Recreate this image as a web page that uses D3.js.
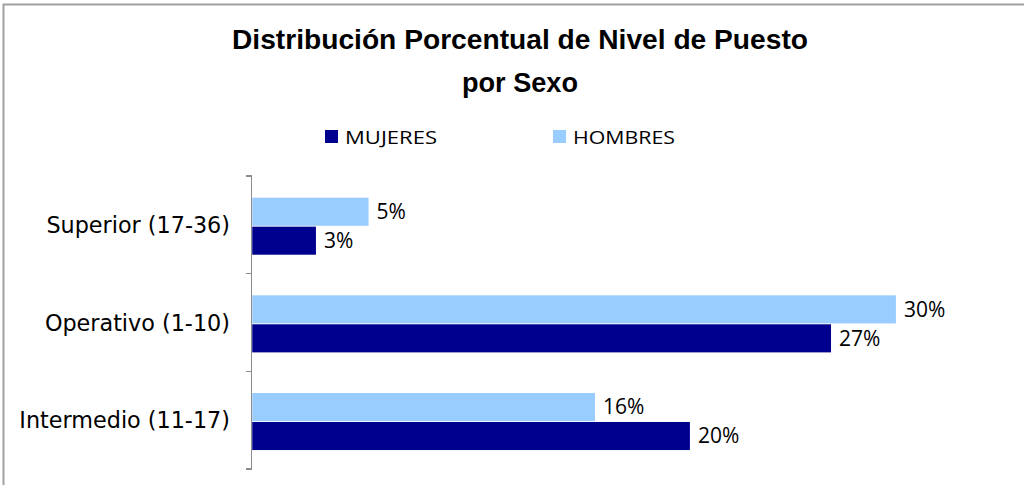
<!DOCTYPE html>
<html lang="es">
<head>
<meta charset="utf-8">
<title>Distribución Porcentual de Nivel de Puesto por Sexo</title>
<script src="https://cdn.jsdelivr.net/npm/d3@7"></script>
<style type="text/css">
  body {
    margin: 0;
    background: #fff;
  }
  svg text {
    font-family: "Open Sans", Lato, sans-serif;
    fill: #000;
  }
  .title {
    font-family: "Liberation Sans", Arial, sans-serif !important;
    font-weight: bold;
    font-size: 27px;
  }
  .cat {
    font-family: "DejaVu Sans", sans-serif !important;
    font-size: 22.3px;
  }
  .axis path, .axis line {
    stroke: #8c8c8c;
    stroke-width: 1.5;
    shape-rendering: crispEdges;
  }
</style>
</head>
<body>
<div id="vis"></div>
<script type="text/javascript">

/* Data */
/* ==== */

var categories = ['Superior (17-36)', 'Operativo (1-10)', 'Intermedio (11-17)'];
var seriesNames = ['MUJERES', 'HOMBRES'];
var mujeres = [3.0, 26.98, 20.41];
var hombres = [5.45, 30.0, 15.99];
var titleLines = ['Distribución Porcentual de Nivel de Puesto', 'por Sexo'];

var colors = { MUJERES: '#00008f', HOMBRES: '#99ccff' };


/* Set up */
/* ====== */

var width = 1024, height = 485;

var svg = d3.select('#vis')
  .append('svg')
    .attr('width', width)
    .attr('height', height);

// chart area border (only top and left visible in the frame)
svg.append('rect')
  .attr('x', 3.5)
  .attr('y', 4.5)
  .attr('width', width + 10)
  .attr('height', height + 10)
  .attr('fill', 'none')
  .attr('stroke', '#a0a0a0')
  .attr('stroke-width', 2);


/* Scales */
/* ====== */

var x = d3.scaleLinear()
  .domain([0, 35])
  .range([251.5, 251.5 + 35 * 21.48]);

var y = d3.scaleBand()
  .domain(categories)
  .range([176, 469]);

// HOMBRES drawn on top, MUJERES below within each group
var ySub = d3.scaleBand()
  .domain(['HOMBRES', 'MUJERES'])
  .range([y.bandwidth() * 0.222, y.bandwidth() * 0.806])
  .paddingInner(0.03);


/* Title */
/* ===== */

svg.selectAll('.title')
  .data(titleLines)
  .enter().append('text')
    .attr('class', 'title')
    .attr('x', 520)
    .attr('y', function(d, i) { return 49 + i * 43; })
    .attr('text-anchor', 'middle')
    .attr('textLength', function(d, i) { return i === 0 ? 576 : 116; })
    .attr('lengthAdjust', 'spacingAndGlyphs')
    .text(function(d) { return d; });


/* Legend */
/* ====== */

var legendX = [325, 553];

var legend = svg.selectAll('.legend')
  .data(seriesNames)
  .enter().append('g')
    .attr('class', 'legend')
    .attr('transform', function(d, i) { return 'translate(' + legendX[i] + ',130)'; });

legend.append('rect')
  .attr('width', 13)
  .attr('height', 13)
  .attr('fill', function(d) { return colors[d]; });

legend.append('text')
  .attr('x', 20)
  .attr('y', 14)
  .style('font-size', '18px')
  .attr('textLength', function(d) { return d === 'MUJERES' ? 92 : 102; })
  .attr('lengthAdjust', 'spacingAndGlyphs')
  .text(function(d) { return d; });


/* Axis */
/* ==== */

var yAxis = d3.axisLeft(y)
  .tickSize(6)
  .tickSizeOuter(6)
  .tickFormat('');

var axisG = svg.append('g')
  .attr('class', 'axis')
  .attr('transform', 'translate(' + x(0) + ',0)')
  .call(yAxis);

// ticks sit between categories, like Excel
axisG.selectAll('.tick').remove();
var bounds = d3.range(categories.length + 1).map(function(i) { return y.range()[0] + i * y.step(); });
axisG.selectAll('.sep')
  .data(bounds)
  .enter().append('line')
    .attr('x1', -6).attr('x2', 0)
    .attr('y1', function(d) { return d; })
    .attr('y2', function(d) { return d; });
axisG.select('path.domain').attr('d', 'M0,' + bounds[0] + 'V' + bounds[bounds.length - 1]);

// category labels
svg.selectAll('.cat')
  .data(categories)
  .enter().append('text')
    .attr('class', 'cat')
    .attr('x', 230)
    .attr('y', function(d) { return y(d) + y.bandwidth() / 2; })
    .attr('dy', '0.36em')
    .attr('text-anchor', 'end')
    .text(function(d) { return d; });


/* Bars */
/* ==== */

var rows = [];
categories.forEach(function(c, i) {
  rows.push({ cat: c, series: 'HOMBRES', value: hombres[i] });
  rows.push({ cat: c, series: 'MUJERES', value: mujeres[i] });
});

svg.selectAll('.bar')
  .data(rows)
  .enter().append('rect')
    .attr('class', 'bar')
    .attr('x', x(0) + 0.75)
    .attr('y', function(d) { return y(d.cat) + ySub(d.series); })
    .attr('width', function(d) { return x(d.value) - x(0) - 0.75; })
    .attr('height', ySub.bandwidth())
    .attr('fill', function(d) { return colors[d.series]; });

svg.selectAll('.val')
  .data(rows)
  .enter().append('text')
    .attr('class', 'val')
    .attr('x', function(d) { return x(d.value) + 8; })
    .attr('y', function(d) { return y(d.cat) + ySub(d.series) + ySub.bandwidth() / 2; })
    .attr('dy', '0.35em')
    .style('font-size', '21px')
    .text(function(d) { return Math.round(d.value) + '%'; });

</script>
</body>
</html>
